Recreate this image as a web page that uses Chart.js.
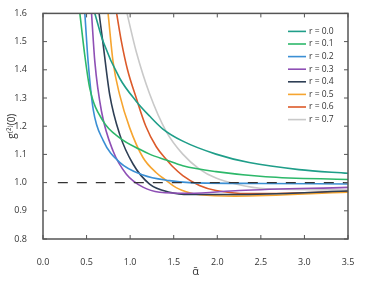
<!DOCTYPE html>
<html>
<head>
<meta charset="utf-8">
<script src="https://cdn.jsdelivr.net/npm/chart.js@4.4.1/dist/chart.umd.min.js"></script>
<style>
  html, body { margin: 0; padding: 0; background: #fff; }
  #wrap { width: 374px; height: 282px; }
</style>
</head>
<body>
<div id="wrap"><canvas id="c"></canvas></div>
<script>
// values
const rLabels = ['r = 0.0', 'r = 0.1', 'r = 0.2', 'r = 0.3', 'r = 0.4', 'r = 0.5', 'r = 0.6', 'r = 0.7'];
const rColors = ['#1f9e89', '#2db86a', '#3b8fd4', '#8e4fb5', '#2e3f55', '#f6a530', '#dc5a2a', '#c9c9c9'];

const alphaR0 = [0.595, 0.69, 0.88, 1.071, 1.223, 1.376, 1.604, 1.985, 2.366, 2.937, 3.5];
const gR0     = [1.6, 1.5, 1.37, 1.288, 1.236, 1.19, 1.147, 1.101, 1.071, 1.046, 1.033];

const alphaR1 = [0.423, 0.48, 0.537, 0.69, 0.88, 1.109, 1.223, 1.414, 1.604, 1.985, 2.556, 3.5];
const gR1     = [1.6, 1.45, 1.334, 1.218, 1.159, 1.118, 1.101, 1.08, 1.06, 1.039, 1.021, 1.011];

const alphaR2 = [0.48, 0.518, 0.576, 0.69, 0.88, 1.147, 1.452, 1.68, 2.5, 3.5];
const gR2     = [1.6, 1.428, 1.26, 1.15, 1.072, 1.027, 1.007, 1.0, 0.997, 0.995];

const alphaR3 = [0.557, 0.595, 0.671, 0.804, 0.957, 1.147, 1.338, 1.68, 2.25, 3.5];
const gR3     = [1.6, 1.428, 1.253, 1.112, 1.03, 0.984, 0.966, 0.962, 0.972, 0.983];

const alphaR4 = [0.644, 0.69, 0.766, 0.88, 1.033, 1.223, 1.452, 1.68, 2.2, 3.5];
const gR4     = [1.6, 1.49, 1.311, 1.171, 1.066, 0.995, 0.966, 0.958, 0.958, 0.97];

const alphaR5 = [0.747, 0.804, 0.88, 0.995, 1.147, 1.3, 1.413, 1.528, 1.68, 1.8, 2.2, 3.5];
const gR5     = [1.6, 1.428, 1.311, 1.194, 1.089, 1.035, 1.008, 0.982, 0.964, 0.957, 0.952, 0.966];

const alphaR6 = [0.845, 0.9, 0.97, 1.07, 1.18, 1.3, 1.413, 1.49, 1.604, 1.795, 1.985, 2.366, 3.5];
const gR6     = [1.6, 1.5, 1.4, 1.3, 1.2, 1.127, 1.083, 1.056, 1.025, 0.99, 0.972, 0.961, 0.968];

const alphaR7 = [0.964, 1.071, 1.223, 1.413, 1.604, 1.795, 1.985, 2.213, 2.556, 3.5];
const gR7     = [1.6, 1.463, 1.315, 1.182, 1.101, 1.048, 1.016, 0.995, 0.978, 0.974];

const refAlpha = [0.17, 3.5];
const refG     = [1.0, 1.0];

const alphaSets = [alphaR0, alphaR1, alphaR2, alphaR3, alphaR4, alphaR5, alphaR6, alphaR7];
const gSets = [gR0, gR1, gR2, gR3, gR4, gR5, gR6, gR7];

function pts(xs, ys) {
    return xs.map((x, i) => ({x: x, y: ys[i]}));
}

const datasets = [{
    label: 'ref',
    data: pts(refAlpha, refG),
    borderColor: '#333',
    borderWidth: 1.3,
    borderDash: [10, 9],
    pointRadius: 0
}];
rLabels.forEach((lab, i) => {
    datasets.push({
        label: lab,
        data: pts(alphaSets[i], gSets[i]),
        borderColor: rColors[i],
        borderWidth: 1.6,
        pointRadius: 0,
        cubicInterpolationMode: 'monotone'
    });
});

// frame with inward ticks on all four sides, plus the legend inside the plot
const framePlugin = {
    id: 'frame',
    afterDatasetsDraw(chart) {
        const {ctx, chartArea: a, scales} = chart;
        ctx.save();
        ctx.strokeStyle = '#555';
        ctx.lineWidth = 1;
        ctx.beginPath();
        scales.x.ticks.forEach(t => {
            const px = scales.x.getPixelForValue(t.value);
            ctx.moveTo(px, a.bottom); ctx.lineTo(px, a.bottom - 4);
            ctx.moveTo(px, a.top); ctx.lineTo(px, a.top + 4);
        });
        scales.y.ticks.forEach(t => {
            const py = scales.y.getPixelForValue(t.value);
            ctx.moveTo(a.left, py); ctx.lineTo(a.left + 4, py);
            ctx.moveTo(a.right, py); ctx.lineTo(a.right - 4, py);
        });
        ctx.stroke();
        ctx.lineWidth = 1.5;
        ctx.strokeRect(a.left, a.top, a.right - a.left, a.bottom - a.top);

        // legend
        ctx.font = '8.5px "Open Sans"';
        ctx.textBaseline = 'middle';
        ctx.fillStyle = '#333';
        chart.data.datasets.slice(1).forEach((ds, i) => {
            const y = a.top + 18 + i * 12.6;
            ctx.strokeStyle = ds.borderColor;
            ctx.lineWidth = 1.6;
            ctx.beginPath();
            ctx.moveTo(a.right - 60, y);
            ctx.lineTo(a.right - 42, y);
            ctx.stroke();
            ctx.fillText(ds.label, a.right - 39, y);
        });
        ctx.restore();
    }
};

Chart.defaults.font.family = '"Open Sans"';
Chart.defaults.font.size = 9;
Chart.defaults.color = '#333';

new Chart(document.getElementById('c'), {
    type: 'scatter',
    data: {datasets: datasets},
    options: {
        responsive: true,
        maintainAspectRatio: false,
        animation: false,
        showLine: true,
        layout: {padding: {top: 11, right: 26, left: 0, bottom: 0}},
        plugins: {legend: {display: false}, tooltip: {enabled: false}},
        scales: {
            x: {
                min: 0, max: 3.5,
                grid: {display: false},
                border: {display: false},
                ticks: {stepSize: 0.5, padding: 10, callback: v => v.toFixed(1)},
                title: {display: true, text: 'ᾱ', font: {size: 11}, padding: {top: 2, bottom: 4}},
                afterFit: s => { s.height = 43; }
            },
            y: {
                min: 0.8, max: 1.6,
                grid: {display: false},
                border: {display: false},
                ticks: {stepSize: 0.1, padding: 8, callback: v => v.toFixed(1)},
                title: {display: true, text: 'g⁽²⁾(0)', font: {size: 10}, padding: {top: 6, bottom: 0}},
                afterFit: s => { s.width = 43; }
            }
        }
    },
    plugins: [framePlugin]
});
</script>
</body>
</html>
